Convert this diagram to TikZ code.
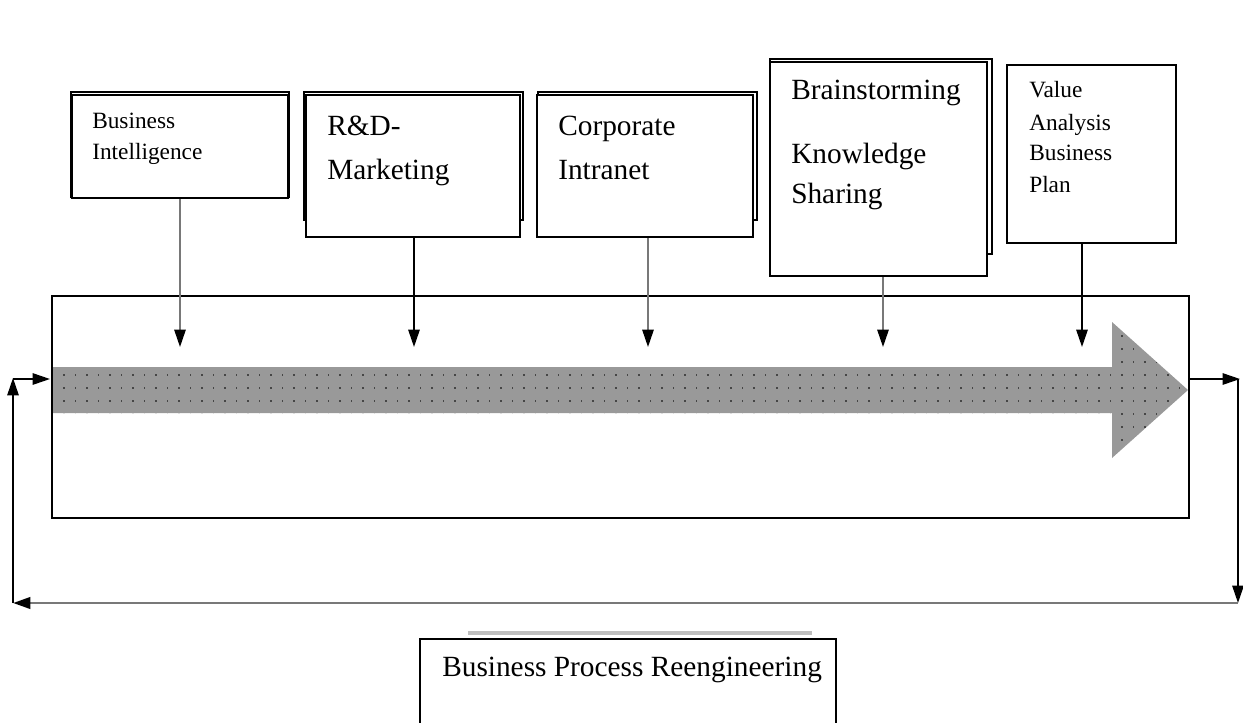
\documentclass[tikz,border=0pt]{standalone}
\usepackage{fontspec}
\setmainfont{Liberation Serif}
\usetikzlibrary{arrows.meta,fit}
\definecolor{bandgray}{RGB}{153,153,153}
\definecolor{dotgray}{RGB}{70,70,70}
\definecolor{linegray}{RGB}{120,120,120}
\begin{document}
\begin{tikzpicture}[x=0.75pt,y=-0.75pt,
  box/.style={draw=black, line width=1.5pt, fill=white, inner sep=0pt},
  backbox/.style={draw=black, line width=1.8pt},
  bigtext/.style={font=\fontsize{22}{26}\selectfont, anchor=base west, inner sep=0pt},
  smalltext/.style={font=\fontsize{17.5}{21}\selectfont, anchor=base west, inner sep=0pt},
  tip/.style={-{Triangle[length=13pt,width=8.5pt,color=black,fill=black]}},
  feed/.style={line width=1.3pt, tip},
  drop/.style={line width=1.3pt, tip},
]
\useasboundingbox (0,0) rectangle (1243,722);
\clip (0,0) rectangle (1243,722);

% ---- process band: a shaded arrow running through the frame ----
\def\bandpath{(52,367) -- (1112,367) -- (1112,322) -- (1188,390) -- (1112,458) -- (1112,413) -- (52,413) -- cycle}
\fill[bandgray] \bandpath;
\begin{scope}
  \clip \bandpath;
  \foreach \r in {323,336,...,453}
    \foreach \c in {64,75.5,...,1190}
      \fill[dotgray] (\c-0.55,\r-1.3) rectangle (\c+0.55,\r+1.3);
\end{scope}

% ---- frame around the process ----
\node[fit={(52,296)(1189,518)}, draw=black, line width=1.5pt, inner sep=0pt] (proc) {};

% ---- input boxes ----
\draw[backbox] (71,92) rectangle (289,197);
\node[box, fit={(72,95)(288,198)}] (bi) {};
\node[smalltext] (bi1) at (92,128) {Business};
\node[smalltext] (bi2) at (92,159) {Intelligence};

\draw[backbox] (304,92) rectangle (523,220);
\node[box, fit={(306,95)(520,237)}] (rd) {};
\node[bigtext] (rd1) at (327,135) {R\&D-};
\node[bigtext] (rd2) at (327,179) {Marketing};

\draw[backbox] (538,92) rectangle (757,220);
\node[box, fit={(537,95)(753,237)}] (ci) {};
\node[bigtext] (ci1) at (558,135) {Corporate};
\node[bigtext] (ci2) at (558,179) {Intranet};

\draw[backbox] (770,59) rectangle (992,254);
\node[box, fit={(770,62)(987,276)}] (bs) {};
\node[bigtext] (bs1) at (791,99) {Brainstorming};
\node[bigtext] (bs2) at (791,163) {Knowledge};
\node[bigtext] (bs3) at (791,203) {Sharing};

\node[box, fit={(1007,65)(1176,243)}] (va) {};
\node[smalltext] (va1) at (1029,97) {Value};
\node[smalltext] (va2) at (1029,130) {Analysis};
\node[smalltext] (va3) at (1029,160) {Business};
\node[smalltext] (va4) at (1029,192) {Plan};

% ---- drops from the boxes into the process ----
\coordinate (tbi) at (180,347);
\coordinate (trd) at (414,347);
\coordinate (tci) at (648,347);
\coordinate (tbs) at (883,347);
\coordinate (tva) at (1082,347);
\draw[drop, draw=linegray] (bi.south -| tbi) -- (tbi);
\draw[drop, draw=black] (rd.south -| trd) -- (trd);
\draw[drop, draw=linegray] (ci.south -| tci) -- (tci);
\draw[drop, draw=linegray] (bs.south -| tbs) -- (tbs);
\draw[drop, draw=black] (va.south -| tva) -- (tva);

% ---- feedback loop around the frame ----
\coordinate (outR) at (1189,379);
\coordinate (cornR) at (1240,379);
\coordinate (botR) at (1238,603);
\coordinate (botL) at (13,603);
\coordinate (cornL) at (13,378);
\coordinate (inL) at (50,379);
\draw[feed] (outR) -- (cornR);
\draw[feed] (1238,379) -- (botR);
\draw[feed, draw=linegray, line width=2.2pt] (botR) -- (botL);
\draw[feed] (botL) -- (cornL);
\draw[feed] (13,379) -- (inL);

% ---- reengineering box ----
\draw[line width=3pt, black!25] (468,633) -- (812,633);
\node[fit={(420,639)(836,760)}, draw=black, line width=1.5pt, fill=white, inner sep=0pt] (bpr) {};
\node[bigtext] (bpr1) at (442,676) {Business Process Reengineering};
\end{tikzpicture}
\end{document}
